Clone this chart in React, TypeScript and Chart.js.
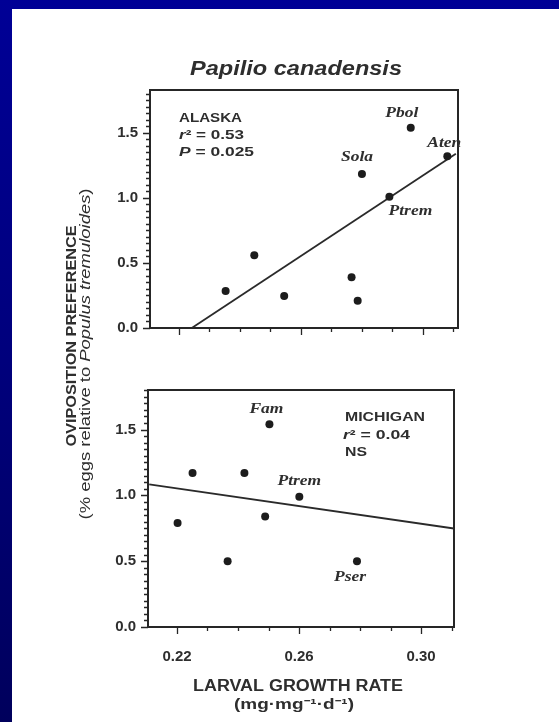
import React, { useEffect, useRef } from "react";
import { Chart, registerables } from "chart.js";

Chart.register(...registerables);

// ---------- data ----------
const ALASKA_X = [0.2353, 0.2447, 0.2545, 0.2766, 0.2786, 0.28, 0.289, 0.296, 0.308];
const ALASKA_Y = [0.285, 0.56, 0.246, 0.39, 0.21, 1.185, 1.01, 1.54, 1.32];
const ALASKA_NAMES = ["", "", "", "", "", "Sola", "Ptrem", "Pbol", "Aten"];
const ALASKA_FIT_X = [0.2242, 0.3108];
const ALASKA_FIT_Y = [0.0, 1.34];

const MICHIGAN_X = [0.2202, 0.2251, 0.2366, 0.2421, 0.2489, 0.2503, 0.2601, 0.279];
const MICHIGAN_Y = [0.79, 1.17, 0.5, 1.17, 0.84, 1.54, 0.99, 0.5];
const MICHIGAN_NAMES = ["", "", "", "", "", "Fam", "Ptrem", "Pser"];
const MICHIGAN_FIT_X = [0.2109, 0.3108];
const MICHIGAN_FIT_Y = [1.083, 0.748];

const X_TICKS = [0.22, 0.26, 0.3];
const Y_TICKS = [0, 0.5, 1.0, 1.5];
const X_MIN = 0.2105;
const X_MAX_TOP = 0.3115;
const X_MAX_BOTTOM = 0.3108;
const Y_MAX_TOP = 1.83;
const Y_MAX_BOTTOM = 1.8;
const X_MINOR_STEP = 0.01;
const Y_MINOR_STEP = 0.05;

const TITLE = "Papilio canadensis";
const X_TITLE = "LARVAL GROWTH RATE";
const X_UNITS = "(mg·mg⁻¹·d⁻¹)";
const Y_TITLE = "OVIPOSITION PREFERENCE";
const Y_SUBTITLE = ["(% eggs relative to ", "Populus tremuloides", ")"];
const ALASKA_STATS = ["ALASKA", "r", "² = 0.53", "P", " = 0.025"];
const MICHIGAN_STATS = ["MICHIGAN", "r", "² = 0.04", "NS"];

// ---------- styles / layout ----------
const SANS = "'Liberation Sans', Arial, sans-serif";
const SERIF = "'Liberation Serif', 'Times New Roman', serif";
const INK = "#2e2e2e";
const DOT = "#1c1c1c";

type Seg = { text: string; font: string };
type TextItem = {
  segs: Seg[];
  x: number;
  y: number;
  align: "left" | "center";
  width?: number;
  rotate?: number;
  baseline?: CanvasTextBaseline;
};

function drawRich(ctx: CanvasRenderingContext2D, item: TextItem) {
  ctx.save();
  ctx.translate(item.x, item.y);
  if (item.rotate) ctx.rotate(item.rotate);
  let total = 0;
  const widths = item.segs.map((s) => {
    ctx.font = s.font;
    const w = ctx.measureText(s.text).width;
    total += w;
    return w;
  });
  const sx = item.width ? item.width / total : 1;
  ctx.scale(sx, 1);
  let cx = item.align === "center" ? -total / 2 : 0;
  ctx.textBaseline = item.baseline || "middle";
  ctx.textAlign = "left";
  ctx.fillStyle = INK;
  item.segs.forEach((s, i) => {
    ctx.font = s.font;
    ctx.fillText(s.text, cx, 0);
    cx += widths[i];
  });
  ctx.restore();
}

const b13 = `bold 13px ${SANS}`;
const bi13 = `italic bold 13px ${SANS}`;

const TOP_TEXTS: TextItem[] = [
  { segs: [{ text: TITLE, font: `italic bold 20px ${SANS}` }], x: 296, y: 75, align: "center", width: 212, baseline: "alphabetic" },
  { segs: [{ text: Y_TITLE, font: `bold 15px ${SANS}` }], x: 72, y: 336, align: "center", width: 221, rotate: -Math.PI / 2 },
  {
    segs: [
      { text: Y_SUBTITLE[0], font: `14px ${SANS}` },
      { text: Y_SUBTITLE[1], font: `italic 14px ${SANS}` },
      { text: Y_SUBTITLE[2], font: `14px ${SANS}` },
    ],
    x: 86, y: 354, align: "center", width: 331, rotate: -Math.PI / 2,
  },
  { segs: [{ text: ALASKA_STATS[0], font: b13 }], x: 179, y: 118, align: "left", width: 63 },
  { segs: [{ text: ALASKA_STATS[1], font: bi13 }, { text: ALASKA_STATS[2], font: b13 }], x: 179, y: 135, align: "left", width: 65 },
  { segs: [{ text: ALASKA_STATS[3], font: bi13 }, { text: ALASKA_STATS[4], font: b13 }], x: 179, y: 152, align: "left", width: 75 },
];

const BOTTOM_TEXTS: TextItem[] = [
  { segs: [{ text: X_TITLE, font: `bold 16px ${SANS}` }], x: 298, y: 687, align: "center", width: 210 },
  { segs: [{ text: X_UNITS, font: `bold 14px ${SANS}` }], x: 294, y: 705, align: "center", width: 120 },
  { segs: [{ text: MICHIGAN_STATS[0], font: b13 }], x: 345, y: 417, align: "left", width: 80 },
  { segs: [{ text: MICHIGAN_STATS[1], font: bi13 }, { text: MICHIGAN_STATS[2], font: b13 }], x: 343, y: 435, align: "left", width: 67 },
  { segs: [{ text: MICHIGAN_STATS[3], font: b13 }], x: 345, y: 452, align: "left", width: 22 },
];

const TOP_LABEL_OFFSETS: Record<string, [number, number]> = {
  Sola: [-5, -16],
  Ptrem: [21, 15],
  Pbol: [-9, -14],
  Aten: [-3, -13],
};
const BOTTOM_LABEL_OFFSETS: Record<string, [number, number]> = {
  Fam: [-3, -15],
  Ptrem: [0, -15],
  Pser: [-7, 16],
};

function makePlugin(texts: TextItem[], names: string[], offsets: Record<string, [number, number]>) {
  return {
    id: "decor",
    beforeDatasetsDraw(chart: any) {
      const ctx: CanvasRenderingContext2D = chart.ctx;
      const { left, right, top, bottom } = chart.chartArea;
      ctx.save();
      ctx.strokeStyle = "#262626";
      ctx.lineWidth = 2;
      ctx.strokeRect(left, top, right - left, bottom - top);
      ctx.lineWidth = 1.3;
      ctx.beginPath();
      const ys = chart.scales.y;
      for (let k = 0; k * Y_MINOR_STEP <= ys.max + 1e-9; k++) {
        const v = k * Y_MINOR_STEP;
        const py = Math.round(ys.getPixelForValue(v)) + 0.5;
        const major = Y_TICKS.some((t) => Math.abs(t - v) < 1e-6);
        ctx.moveTo(left, py);
        ctx.lineTo(left - (major ? 7 : 4), py);
      }
      const xs = chart.scales.x;
      const k0 = Math.ceil(xs.min / X_MINOR_STEP - 1e-9);
      const k1 = Math.floor(xs.max / X_MINOR_STEP + 1e-9);
      for (let k = k0; k <= k1; k++) {
        const v = k * X_MINOR_STEP;
        const px = Math.round(xs.getPixelForValue(v)) + 0.5;
        const major = X_TICKS.some((t) => Math.abs(t - v) < 1e-6);
        ctx.moveTo(px, bottom);
        ctx.lineTo(px, bottom + (major ? 7 : 4));
      }
      ctx.stroke();
      ctx.restore();
    },
    afterDraw(chart: any) {
      const ctx: CanvasRenderingContext2D = chart.ctx;
      texts.forEach((t) => drawRich(ctx, t));
      const meta = chart.getDatasetMeta(0);
      meta.data.forEach((el: any, i: number) => {
        const name = names[i];
        if (!name) return;
        const off = offsets[name] || [0, -14];
        const font = `italic bold 14px ${SERIF}`;
        ctx.save();
        ctx.font = font;
        const w = ctx.measureText(name).width * 1.25;
        ctx.restore();
        drawRich(ctx, { segs: [{ text: name, font }], x: el.x + off[0], y: el.y + off[1], align: "center", width: w });
      });
    },
  };
}

function yScale(max: number) {
  return {
    type: "linear",
    min: 0,
    max,
    afterBuildTicks: (s: any) => {
      s.ticks = Y_TICKS.map((v) => ({ value: v }));
    },
    afterFit: (s: any) => {
      s.width = 60;
    },
    grid: { display: false, drawTicks: false },
    border: { display: false },
    ticks: {
      padding: 12,
      color: INK,
      font: { family: SANS, weight: "bold", size: 15 },
      callback: (v: any) => Number(v).toFixed(1),
    },
  };
}

function datasets(xs: number[], ys: number[], fx: number[], fy: number[]) {
  return [
    {
      type: "scatter",
      data: xs.map((x, i) => ({ x, y: ys[i] })),
      pointRadius: 4,
      pointBackgroundColor: DOT,
      pointBorderColor: DOT,
      pointBorderWidth: 0,
      clip: false,
    },
    {
      type: "line",
      data: fx.map((x, i) => ({ x, y: fy[i] })),
      borderColor: "#2a2a2a",
      borderWidth: 1.8,
      pointRadius: 0,
      fill: false,
      tension: 0,
    },
  ];
}

export default function App() {
  const topRef = useRef<HTMLCanvasElement>(null);
  const botRef = useRef<HTMLCanvasElement>(null);

  useEffect(() => {
    const top = new Chart(topRef.current as HTMLCanvasElement, {
      type: "scatter",
      data: { datasets: datasets(ALASKA_X, ALASKA_Y, ALASKA_FIT_X, ALASKA_FIT_Y) as any },
      options: {
        animation: false,
        responsive: false,
        events: [],
        layout: { padding: { left: 90, top: 90, right: 101, bottom: 394 } },
        plugins: { legend: { display: false }, tooltip: { enabled: false }, title: { display: false } },
        scales: {
          x: { type: "linear", min: X_MIN, max: X_MAX_TOP, display: false },
          y: yScale(Y_MAX_TOP) as any,
        },
      },
      plugins: [makePlugin(TOP_TEXTS, ALASKA_NAMES, TOP_LABEL_OFFSETS)],
    });
    const bot = new Chart(botRef.current as HTMLCanvasElement, {
      type: "scatter",
      data: { datasets: datasets(MICHIGAN_X, MICHIGAN_Y, MICHIGAN_FIT_X, MICHIGAN_FIT_Y) as any },
      options: {
        animation: false,
        responsive: false,
        events: [],
        layout: { padding: { left: 88, top: 390, right: 105, bottom: 0 } },
        plugins: { legend: { display: false }, tooltip: { enabled: false }, title: { display: false } },
        scales: {
          x: {
            type: "linear",
            min: X_MIN,
            max: X_MAX_BOTTOM,
            afterBuildTicks: (s: any) => {
              s.ticks = X_TICKS.map((v) => ({ value: v }));
            },
            afterFit: (s: any) => {
              s.height = 95;
            },
            grid: { display: false, drawTicks: false },
            border: { display: false },
            ticks: {
              padding: 21,
              color: INK,
              maxRotation: 0,
              font: { family: SANS, weight: "bold", size: 15 },
              callback: (v: any) => Number(v).toFixed(2),
            },
          },
          y: yScale(Y_MAX_BOTTOM) as any,
        },
      },
      plugins: [makePlugin(BOTTOM_TEXTS, MICHIGAN_NAMES, BOTTOM_LABEL_OFFSETS)],
    });
    return () => {
      top.destroy();
      bot.destroy();
    };
  }, []);

  const abs: React.CSSProperties = { position: "absolute", left: 0, top: 0 };
  return (
    <div
      style={{
        position: "fixed",
        left: 0,
        top: 0,
        width: 559,
        height: 722,
        background: "linear-gradient(180deg, #000096 0%, #00007c 50%, #00005c 100%)",
        overflow: "hidden",
      }}
    >
      <div style={{ position: "absolute", left: 12, top: 9, right: 0, bottom: 0, background: "#ffffff" }} />
      <canvas ref={topRef} width={559} height={722} style={abs} />
      <canvas ref={botRef} width={559} height={722} style={abs} />
    </div>
  );
}
